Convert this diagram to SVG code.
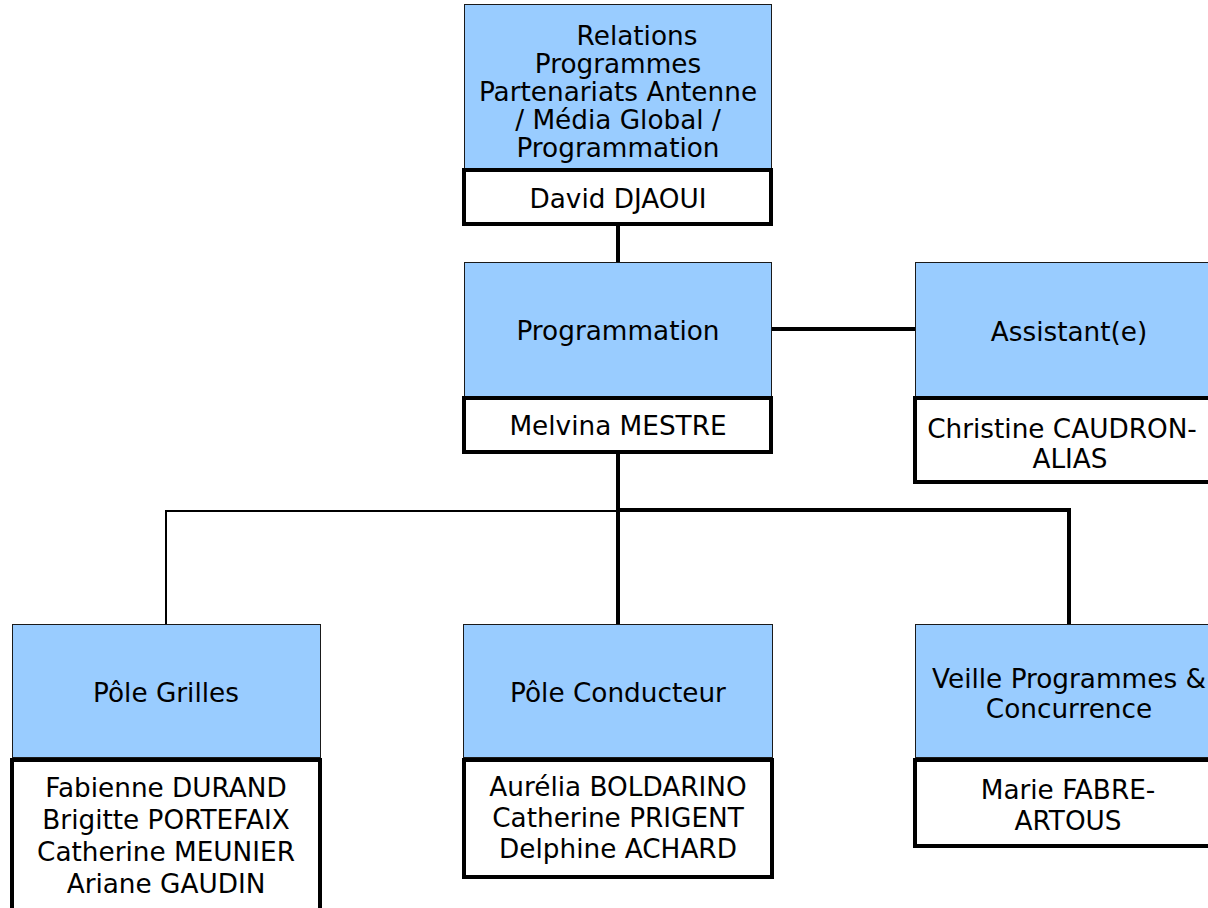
<svg xmlns="http://www.w3.org/2000/svg" width="1208" height="908" viewBox="0 0 1208 908">
<style>
.t{fill:#99CCFF;stroke:#1a1a1a;stroke-width:1}
.n{fill:#FFFFFF;stroke:#000;stroke-width:4}
text{font-family:"DejaVu Sans","Verdana",sans-serif;font-size:26.3px;fill:#000;text-anchor:middle}
.thick{stroke:#000;stroke-width:4;fill:none}
.thin{stroke:#000;stroke-width:2;fill:none}
</style>
<rect width="1208" height="908" fill="#fff"/>
<g id="connectors">
<line class="thick" x1="618" y1="226" x2="618" y2="262"/>
<line class="thick" x1="772" y1="329" x2="915" y2="329"/>
<line class="thick" x1="618" y1="454" x2="618" y2="624"/>
<polyline class="thin" points="618,511 166,511 166,624"/>
<polyline class="thick" points="618,510 1069,510 1069,624"/>
</g>
<g id="node-relations">
<rect class="t" x="464.5" y="4.5" width="307" height="164"/>
<rect class="n" x="464" y="170" width="307" height="54"/>
<text x="637" y="45">Relations</text>
<text x="618" y="73">Programmes</text>
<text x="618" y="101">Partenariats Antenne</text>
<text x="618" y="129">/ Média Global /</text>
<text x="618" y="157">Programmation</text>
<text x="618" y="208">David DJAOUI</text>
</g>
<g id="node-programmation">
<rect class="t" x="464.5" y="262.5" width="307" height="134"/>
<rect class="n" x="464" y="398" width="307" height="54"/>
<text x="618" y="340">Programmation</text>
<text x="618" y="435">Melvina MESTRE</text>
</g>
<g id="node-assistant">
<rect class="t" x="915.5" y="262.5" width="308" height="134"/>
<rect class="n" x="915" y="398" width="308" height="84"/>
<text x="1069" y="341">Assistant(e)</text>
<text x="1062" y="438">Christine CAUDRON-</text>
<text x="1070" y="468">ALIAS</text>
</g>
<g id="node-grilles">
<rect class="t" x="12.5" y="624.5" width="308" height="133"/>
<rect class="n" x="12" y="760" width="308" height="160"/>
<text x="166" y="702">Pôle Grilles</text>
<text x="166" y="797">Fabienne DURAND</text>
<text x="166" y="829">Brigitte PORTEFAIX</text>
<text x="166" y="861">Catherine MEUNIER</text>
<text x="166" y="893">Ariane GAUDIN</text>
</g>
<g id="node-conducteur">
<rect class="t" x="463.5" y="624.5" width="309" height="133"/>
<rect class="n" x="464" y="760" width="308" height="117"/>
<text x="618" y="702">Pôle Conducteur</text>
<text x="618" y="796">Aurélia BOLDARINO</text>
<text x="618" y="827">Catherine PRIGENT</text>
<text x="618" y="858">Delphine ACHARD</text>
</g>
<g id="node-veille">
<rect class="t" x="915.5" y="624.5" width="308" height="133"/>
<rect class="n" x="915" y="760" width="308" height="86"/>
<text x="1069" y="688">Veille Programmes &amp;</text>
<text x="1069" y="718">Concurrence</text>
<text x="1068" y="799">Marie FABRE-</text>
<text x="1068" y="830">ARTOUS</text>
</g>
</svg>
